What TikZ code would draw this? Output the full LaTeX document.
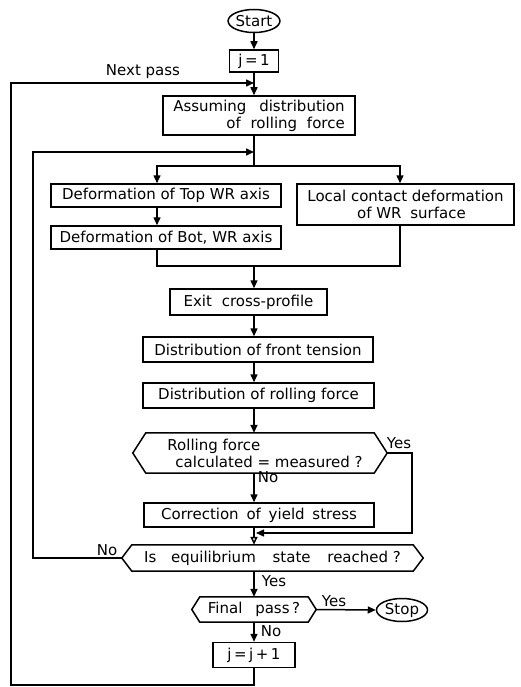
\documentclass[tikz,border=0pt]{standalone}
\usepackage{fontspec}
\setmainfont{DejaVu Sans}
\usetikzlibrary{arrows.meta,shapes.geometric,calc}
\newcommand\diafont{\fontsize{15}{17}\selectfont}
\begin{document}
\begin{tikzpicture}[x=1pt,y=-1pt,
  line/.style={line width=1.5pt},
  arr/.style={line, -{Triangle[length=8pt,width=7pt]}},
  arropen/.style={line, -{Triangle[open,length=8pt,width=7pt]}},
  box/.style={draw, line width=1.5pt, rectangle, inner sep=0pt, font=\diafont},
  hexin/.style={rectangle, inner sep=0pt, font=\diafont},
  hexline/.style={line width=1.5pt, line join=miter},
  term/.style={ellipse, draw, line width=1.5pt, inner sep=0pt, minimum width=51pt, minimum height=23pt, font=\diafont},
  lbl/.style={inner sep=0pt, font=\diafont}
]
\useasboundingbox (0,0) rectangle (520,687);

% ---------- nodes ----------
\node[term] (start) at (254,21) {Start};
\node[box, minimum width=49pt, minimum height=22pt] (j1) at (254,61) {j\,=\,1};
\node[box, minimum width=192pt, minimum height=39pt, align=right] (assume) at (259,115.5)
  {Assuming\hspace{8pt} distribution\\of\hspace{5pt} rolling\hspace{5pt} force};
\node[box, minimum width=230pt, minimum height=23pt] (topwr) at (166,195.5) {Deformation of Top WR axis};
\node[box, minimum width=230pt, minimum height=23pt] (bot) at (166,237.5) {Deformation of Bot, WR axis};
\node[box, minimum width=217pt, minimum height=41pt, align=center] (local) at (405.5,204.5)
  {Local contact deformation\\\hspace{12pt}of WR\hspace{4pt} surface};
\node[box, minimum width=157pt, minimum height=26pt] (exit) at (248.5,302) {Exit\hspace{5pt} cross-profile};
\node[box, minimum width=230pt, minimum height=25pt] (front) at (258,349.5) {Distribution of front tension};
\node[box, minimum width=231pt, minimum height=25pt] (rollf) at (258.5,395.5) {Distribution of rolling force};
\node[hexin, minimum width=228pt, minimum height=40pt, align=left] (d1) at (260,453)
  {\hspace{10pt}Rolling force\\\hspace{18pt}calculated = measured ?};
\node[box, minimum width=230pt, minimum height=24pt] (corr) at (259,515) {Correction\hspace{3pt} of\hspace{3pt} yield\hspace{3pt} stress};
\node[hexin, minimum width=281pt, minimum height=26pt] (eq) at (272.5,558)
  {Is\hspace{10pt} equilibrium\hspace{12pt} state\hspace{12pt} reached ?};
\node[hexin, minimum width=108pt, minimum height=25pt] (final) at (254,609.5) {Final\hspace{8pt} pass\,?};
\node[term] (stop) at (402,610) {Stop};
\node[box, minimum width=82pt, minimum height=25pt] (jj) at (254,655) {j\,=\,j\,+\,1};

% ---------- hexagon outlines ----------
\coordinate (d1l) at ([xshift=-13pt]d1.west);
\coordinate (d1r) at ([xshift=13pt]d1.east);
\coordinate (eql) at ([xshift=-10pt]eq.west);
\coordinate (eqr) at ([xshift=10pt]eq.east);
\coordinate (finl) at ([xshift=-8pt]final.west);
\coordinate (finr) at ([xshift=8pt]final.east);
\draw[hexline] (d1.north west) -- (d1.north east) -- (d1r) -- (d1.south east) -- (d1.south west) -- (d1l) -- cycle;
\draw[hexline] (eq.north west) -- (eq.north east) -- (eqr) -- (eq.south east) -- (eq.south west) -- (eql) -- cycle;
\draw[hexline] (final.north west) -- (final.north east) -- (finr) -- (final.south east) -- (final.south west) -- (finl) -- cycle;

% ---------- helper coordinates ----------
\coordinate (npj) at (254,83);
\coordinate (ob) at (11,685);
\coordinate (il) at (254,152);
\coordinate (ilc) at (33,558);
\coordinate (br) at (254,166);
\coordinate (bl) at (157,166);
\coordinate (brr) at (400,166);
\coordinate (mg) at (254,266);
\coordinate (yc) at (412,453);
\coordinate (yj) at (256,533);

% ---------- connectors ----------
\draw[arr] (start) -- (j1);
\draw[arr] (j1.south) -- (j1.south |- assume.north);
\draw[arr] (jj.south) |- (ob) |- (npj);
\draw[line] (assume.south -| br) -- (br);
\draw[arr] (eql) -- (ilc) |- (il);
\draw[arr] (br) -- (bl) -- (bl |- topwr.north);
\draw[arr] (br) -- (brr) -- (brr |- local.north);
\draw[arr] (bl |- topwr.south) -- (bl |- bot.north);
\draw[line] (bl |- bot.south) |- (mg) -| (brr |- local.south);
\draw[arr] (mg) -- (mg |- exit.north);
\draw[arr] (mg |- exit.south) -- (mg |- front.north);
\draw[arr] (mg |- front.south) -- (mg |- rollf.north);
\draw[arr] (mg |- rollf.south) -- (mg |- d1.north);
\draw[arr] (mg |- d1.south) -- (mg |- corr.north);
\draw[arropen] (mg |- corr.south) -- (mg |- eq.north);
\draw[arr] (d1r) -- (yc) |- (yj);
\draw[arr] (mg |- eq.south) -- (mg |- final.north);
\draw[arr] (finr) -- (stop.west);
\draw[arr] (mg |- final.south) -- (jj.north);

% ---------- labels ----------
\node[lbl] (lnext) at (143,72) {Next pass};
\node[lbl] (ly1) at (399,443) {Yes};
\node[lbl] (ln1) at (268,477) {No};
\node[lbl] (ln2) at (107,550) {No};
\node[lbl] (ly2) at (274,581) {Yes};
\node[lbl] (ly3) at (334,601) {Yes};
\node[lbl] (ln3) at (271,631) {No};
\end{tikzpicture}
\end{document}
